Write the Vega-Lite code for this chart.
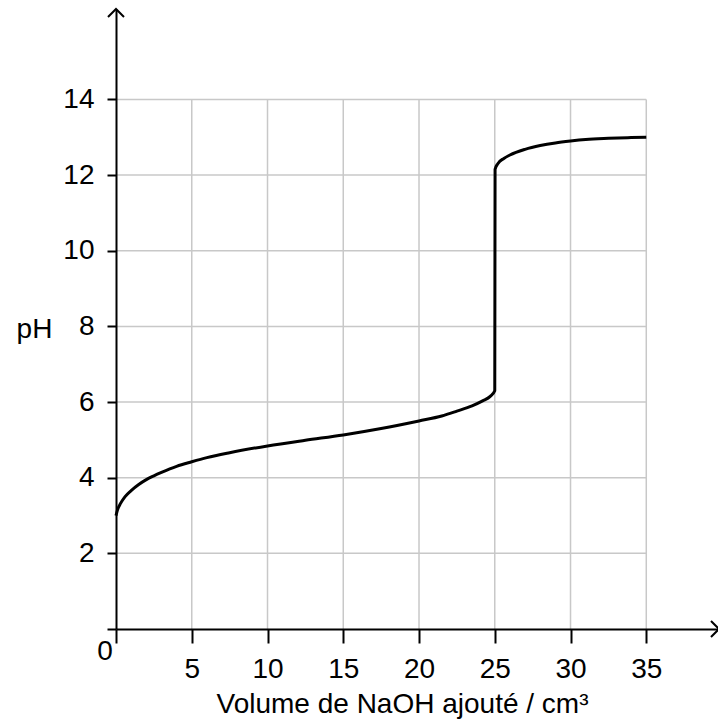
{
  "$schema": "https://vega.github.io/schema/vega-lite/v6.json",
  "width": 603,
  "height": 620,
  "autosize": {"type": "none"},
  "padding": {"left": 116, "top": 9, "right": 0, "bottom": 95},
  "background": "white",
  "config": {"view": {"stroke": null}, "font": "Liberation Sans"},
  "encoding": {
    "x": {
      "field": "x", "type": "quantitative",
      "scale": {"domain": [0, 39.8], "nice": false, "zero": false},
      "axis": {
        "values": [0, 5, 10, 15, 20, 25, 30, 35],
        "grid": false, "zindex": 1,
        "domainColor": "black", "domainWidth": 2,
        "tickColor": "black", "tickWidth": 2, "tickSize": 14,
        "labelFont": "Liberation Sans", "labelFontSize": 28, "labelColor": "black",
        "labelPadding": 12, "labelFlush": false, "labelOverlap": false,
        "labelExpr": "datum.value == 0 ? '' : datum.label",
        "title": "Volume de NaOH ajouté / cm³",
        "titleFont": "Liberation Sans", "titleFontSize": 28, "titleFontWeight": "normal", "titleColor": "black",
        "titleX": 286, "titleY": 83, "titleAlign": "center", "titleBaseline": "alphabetic"
      }
    },
    "y": {
      "field": "y", "type": "quantitative",
      "scale": {"domain": [0, 16.39], "nice": false, "zero": false},
      "axis": {
        "values": [0, 2, 4, 6, 8, 10, 12, 14],
        "grid": false, "zindex": 1,
        "domainColor": "black", "domainWidth": 2,
        "tickColor": "black", "tickWidth": 2, "tickSize": 9,
        "labelFont": "Liberation Sans", "labelFontSize": 28, "labelColor": "black",
        "labelPadding": 13, "labelFlush": false, "labelOverlap": false,
        "labelExpr": "datum.value == 0 ? '' : datum.label",
        "title": "pH",
        "titleFont": "Liberation Sans", "titleFontSize": 28, "titleFontWeight": "normal", "titleColor": "black",
        "titleAngle": 0, "titleX": -82, "titleY": 328, "titleAlign": "center", "titleBaseline": "alphabetic"
      }
    }
  },
  "layer": [
    {
      "data": {"values": [
        {"y": 2, "x": 0, "x2": 35}, {"y": 4, "x": 0, "x2": 35}, {"y": 6, "x": 0, "x2": 35},
        {"y": 8, "x": 0, "x2": 35}, {"y": 10, "x": 0, "x2": 35}, {"y": 12, "x": 0, "x2": 35},
        {"y": 14, "x": 0, "x2": 35}
      ]},
      "mark": {"type": "rule", "color": "#c8c8c8", "strokeWidth": 1.5},
      "encoding": {"x2": {"field": "x2"}}
    },
    {
      "data": {"values": [
        {"x": 5, "y": 0, "y2": 14}, {"x": 10, "y": 0, "y2": 14}, {"x": 15, "y": 0, "y2": 14},
        {"x": 20, "y": 0, "y2": 14}, {"x": 25, "y": 0, "y2": 14}, {"x": 30, "y": 0, "y2": 14},
        {"x": 35, "y": 0, "y2": 14}
      ]},
      "mark": {"type": "rule", "color": "#c8c8c8", "strokeWidth": 1.5},
      "encoding": {"y2": {"field": "y2"}}
    },
    {
      "data": {"values": [
        {"i": 0, "x": 0, "y": 3.0}, {"i": 1, "x": 0.1, "y": 3.15}, {"i": 2, "x": 0.3, "y": 3.32},
        {"i": 3, "x": 0.6, "y": 3.5}, {"i": 4, "x": 1, "y": 3.66}, {"i": 5, "x": 1.5, "y": 3.82},
        {"i": 6, "x": 2, "y": 3.95}, {"i": 7, "x": 2.5, "y": 4.05}, {"i": 8, "x": 3, "y": 4.14},
        {"i": 9, "x": 4, "y": 4.3}, {"i": 10, "x": 5, "y": 4.42}, {"i": 11, "x": 6, "y": 4.53},
        {"i": 12, "x": 7.5, "y": 4.66}, {"i": 13, "x": 10, "y": 4.84}, {"i": 14, "x": 12.5, "y": 4.99},
        {"i": 15, "x": 15, "y": 5.13}, {"i": 16, "x": 17.5, "y": 5.3}, {"i": 17, "x": 20, "y": 5.5},
        {"i": 18, "x": 21.5, "y": 5.63}, {"i": 19, "x": 22.5, "y": 5.76}, {"i": 20, "x": 23.5, "y": 5.9},
        {"i": 21, "x": 24.2, "y": 6.03}, {"i": 22, "x": 24.7, "y": 6.15}, {"i": 23, "x": 25, "y": 6.3},
        {"i": 24, "x": 25.02, "y": 12.15}, {"i": 25, "x": 25.2, "y": 12.3}, {"i": 26, "x": 25.6, "y": 12.44},
        {"i": 27, "x": 26, "y": 12.53}, {"i": 28, "x": 27, "y": 12.68}, {"i": 29, "x": 28, "y": 12.78},
        {"i": 30, "x": 29, "y": 12.85}, {"i": 31, "x": 30, "y": 12.9}, {"i": 32, "x": 31, "y": 12.94},
        {"i": 33, "x": 32.5, "y": 12.97}, {"i": 34, "x": 34, "y": 12.99}, {"i": 35, "x": 35, "y": 13.0}
      ]},
      "mark": {"type": "line", "color": "black", "strokeWidth": 3, "interpolate": "monotone"},
      "encoding": {"order": {"field": "i", "type": "quantitative"}}
    },
    {
      "data": {"values": [
        {"x": 0, "y": 16.39, "dir": "up"},
        {"x": 39.8, "y": 0, "dir": "right"}
      ]},
      "mark": {"type": "point", "filled": false, "stroke": "black", "strokeWidth": 2, "size": 256, "opacity": 1},
      "encoding": {
        "shape": {
          "field": "dir", "type": "nominal", "legend": null,
          "scale": {"domain": ["up", "right"], "range": ["M -1 1 L 0 0 L 1 1", "M -1 -1 L 0 0 L -1 1"]}
        }
      }
    },
    {
      "data": {"values": [{"x": 0, "y": 0, "t": "0"}]},
      "mark": {"type": "text", "font": "Liberation Sans", "fontSize": 28, "color": "black", "align": "center", "baseline": "middle", "dx": -11, "dy": 23},
      "encoding": {"text": {"field": "t"}}
    }
  ]
}
